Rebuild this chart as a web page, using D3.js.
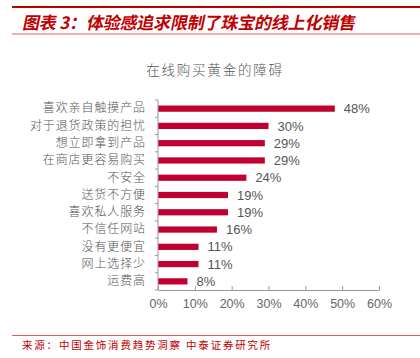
<!DOCTYPE html>
<html><head><meta charset="utf-8">
<script src="https://cdn.jsdelivr.net/npm/d3@7"></script>
<style>body{margin:0;background:#fff;}svg{display:block;}</style>
</head><body>
<svg id="c" width="420" height="358"></svg>
<script>
const categories = ["喜欢亲自触摸产品","对于退货政策的担忧","想立即拿到产品","在商店更容易购买","不安全","送货不方便","喜欢私人服务","不信任网站","没有更便宜","网上选择少","运费高"];
const values = [48,30,29,29,24,19,19,16,11,11,8];
const xTicks = [0,10,20,30,40,50,60];
const figTitle = "图表 3：体验感追求限制了珠宝的线上化销售";
const chartTitle = "在线购买黄金的障碍";
const source = "来源：中国金饰消费趋势洞察 中泰证券研究所";

const svg = d3.select("#c");
const red = "#C00030";
const cjk = "'Noto Sans CJK SC', sans-serif";

svg.append("rect").attr("x",12).attr("y",6).attr("width",408).attr("height",2).attr("fill","#C00000");
const tt = svg.append("text").attr("x",0).attr("y",0).attr("fill","#C00000")
  .attr("font-family",cjk).attr("font-weight","bold")
  .attr("font-size",17)
  .attr("transform","translate(22,29) skewX(-12)").text(figTitle);
// fit title to reference width
const tw = tt.node().getComputedTextLength();
tt.attr("textLength",333).attr("lengthAdjust","spacing");
svg.append("rect").attr("x",12).attr("y",33.5).attr("width",408).attr("height",1).attr("fill","#E06060");

svg.append("text").attr("x",215).attr("y",75).attr("text-anchor","middle").attr("fill","#555")
  .attr("font-family",cjk).attr("font-size",13.5).attr("letter-spacing",1.8).attr("font-weight",300).text(chartTitle);

const x = d3.scaleLinear().domain([0,60]).range([158,379]);
const y = d3.scaleBand().domain(categories).range([100,290]).paddingInner(0.64).paddingOuter(0.32);

svg.selectAll(".bar").data(values).join("rect")
  .attr("x",x(0)).attr("y",(d,i)=>y(categories[i]))
  .attr("width",d=>x(d)-x(0)).attr("height",y.bandwidth()).attr("fill",red);

svg.selectAll(".val").data(values).join("text")
  .attr("x",d=>x(d)+9).attr("y",(d,i)=>y(categories[i])+y.bandwidth()/2)
  .attr("dy","0.36em").attr("fill","#555").attr("font-family","'Liberation Sans', Arial, sans-serif")
  .attr("font-size",13).text(d=>d+"%");

const xa = svg.append("g").attr("transform","translate(0,290)")
  .call(d3.axisBottom(x).tickValues(xTicks).tickFormat(d=>d+"%").tickSize(4).tickSizeOuter(0));
xa.select(".domain").attr("stroke","#999");
xa.selectAll(".tick line").attr("stroke","#999").attr("y1",0).attr("y2",-4);
xa.selectAll(".tick text").attr("fill","#666").attr("font-size",12.5)
  .attr("font-family","'Liberation Sans', Arial, sans-serif").attr("y",9).attr("dy","0.71em");

const ya = svg.append("g").attr("transform","translate(158,0)")
  .call(d3.axisLeft(y).tickSize(0).tickPadding(12));
ya.select(".domain").remove();
ya.selectAll(".tick text").attr("fill","#555").attr("font-size",12).attr("letter-spacing",0.9)
  .attr("font-weight",300).attr("font-family",cjk);
const bounds = d3.range(categories.length+1).map(i=>100+i*(190/categories.length));
svg.append("line").attr("x1",158).attr("x2",158).attr("y1",100).attr("y2",290).attr("stroke","#999");
svg.selectAll(".yb").data(bounds).join("line")
  .attr("x1",155).attr("x2",158).attr("y1",d=>d).attr("y2",d=>d).attr("stroke","#999");

svg.append("rect").attr("x",12).attr("y",335).attr("width",408).attr("height",1).attr("fill","#E06060");
svg.append("text").attr("x",22).attr("y",349).attr("fill","#C00000").attr("font-family",cjk)
  .attr("font-size",10.5).attr("letter-spacing",1.8).text(source);
</script>
</body></html>
